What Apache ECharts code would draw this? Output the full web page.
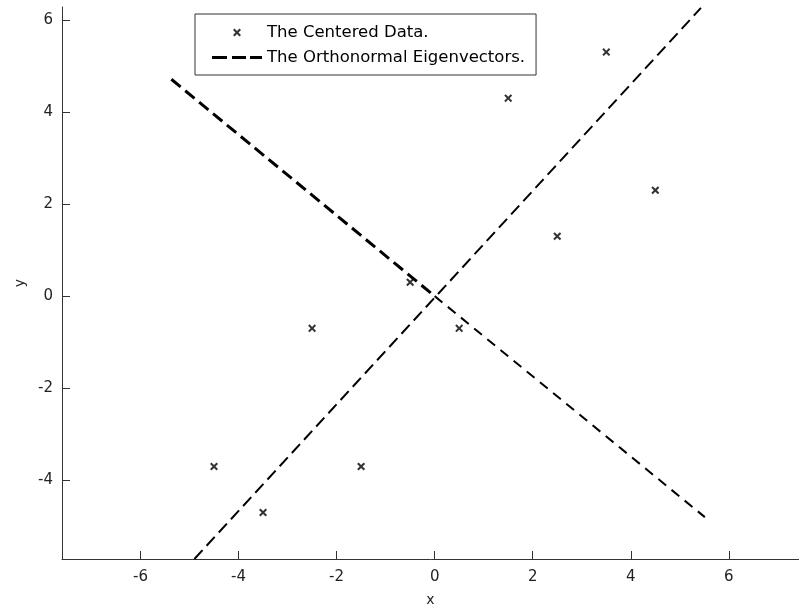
<!DOCTYPE html>
<html>
<head>
<meta charset="utf-8">
<title>Centered data and eigenvectors</title>
<script src="https://cdn.jsdelivr.net/npm/echarts@6/dist/echarts.min.js"></script>
<style>
  html, body { margin: 0; padding: 0; background: #fff; }
  #chart { width: 799px; height: 609px; }
</style>
</head>
<body>
<div id="chart"></div>
<script>
// centered data points
const dataX = [-4.5, -3.5, -2.5, -1.5, -0.5, 0.5, 1.5, 2.5, 3.5, 4.5];
const dataY = [-3.7, -4.7, -0.7, -3.7, 0.3, -0.7, 4.3, 1.3, 5.3, 2.3];

// eigenvector lines (end points)
const eig1 = [[-4.90, -5.71], [5.43, 6.26]];
const eig2Upper = [[-5.37, 4.71], [0, 0]];
const eig2Lower = [[0, 0], [5.51, -4.80]];

const xTicks = [-6, -4, -2, 0, 2, 4, 6];
const yTicks = [-4, -2, 0, 2, 4, 6];

// filled "x" marker
const crossPath = 'path://M0,1.8L1.8,0L5,3.2L8.2,0L10,1.8L6.8,5L10,8.2L8.2,10L5,6.8L1.8,10L0,8.2L3.2,5Z';
// same cross padded into a 50x10 box for the legend
const crossIcon = 'path://M0,0L0.01,0L0,0.01ZM50,10L49.99,10L50,9.99Z' +
    'M21,2.5L22.5,1L25,3.5L27.5,1L29,2.5L26.5,5L29,7.5L27.5,9L25,6.5L22.5,9L21,7.5L23.5,5Z';
const dashIcon = 'path://M0,0L0.01,0L0,0.01ZM50,10L49.99,10L50,9.99Z' +
    'M0,3.5h15v3h-15zM20,3.5h14v3h-14zM38,3.5h12v3h-12z';

const font = 'DejaVu Sans';
const axisColor = '#333';

const chart = echarts.init(document.getElementById('chart'));

const option = {
    animation: false,
    backgroundColor: '#fff',
    grid: {
        left: 62,
        top: 7,
        right: 0,
        bottom: 50,
        outerBoundsMode: 'none'
    },
    legend: {
        orient: 'vertical',
        left: 195,
        top: 14,
        padding: [10, 11, 9, 17],
        itemGap: 8,
        itemWidth: 50,
        itemHeight: 10,
        borderColor: '#333',
        borderWidth: 1,
        backgroundColor: '#fff',
        textStyle: { fontFamily: font, fontSize: 16.5, color: '#000' },
        data: [
            { name: 'The Centered Data.', icon: crossIcon, itemStyle: { color: '#000' } },
            { name: 'The Orthonormal Eigenvectors.', icon: dashIcon, itemStyle: { color: '#000' } }
        ]
    },
    xAxis: {
        type: 'value',
        min: -7.6,
        max: 7.43,
        name: 'x',
        nameLocation: 'middle',
        nameGap: 34,
        nameTextStyle: { fontFamily: font, fontSize: 14, color: '#222' },
        splitLine: { show: false },
        axisLine: { onZero: false, lineStyle: { color: axisColor, width: 1 } },
        axisTick: { inside: true, length: 8, customValues: xTicks, lineStyle: { color: axisColor } },
        axisLabel: {
            customValues: xTicks,
            margin: 11,
            fontFamily: font,
            fontSize: 15,
            color: '#222'
        }
    },
    yAxis: {
        type: 'value',
        min: -5.71,
        max: 6.28,
        name: 'y',
        nameLocation: 'middle',
        nameGap: 33,
        nameTextStyle: { fontFamily: font, fontSize: 14, color: '#222' },
        splitLine: { show: false },
        axisLine: { onZero: false, lineStyle: { color: axisColor, width: 1 } },
        axisTick: { inside: true, length: 8, customValues: yTicks, lineStyle: { color: axisColor } },
        axisLabel: {
            customValues: yTicks,
            margin: 9,
            fontFamily: font,
            fontSize: 15,
            color: '#222'
        }
    },
    series: [
        {
            name: 'The Centered Data.',
            type: 'scatter',
            symbol: crossPath,
            symbolSize: 8,
            itemStyle: { color: '#000' },
            data: dataX.map((x, i) => [x, dataY[i]]),
            z: 5
        },
        {
            name: 'The Orthonormal Eigenvectors.',
            type: 'line',
            symbol: 'none',
            lineStyle: { color: '#000', width: 2, type: [12, 6] },
            data: eig1
        },
        {
            name: 'The Orthonormal Eigenvectors.',
            type: 'line',
            symbol: 'none',
            lineStyle: { color: '#000', width: 3, type: [12, 6] },
            data: eig2Upper
        },
        {
            name: 'The Orthonormal Eigenvectors.',
            type: 'line',
            symbol: 'none',
            lineStyle: { color: '#000', width: 2, type: [10, 7] },
            data: eig2Lower
        }
    ]
};

chart.setOption(option);
</script>
</body>
</html>
